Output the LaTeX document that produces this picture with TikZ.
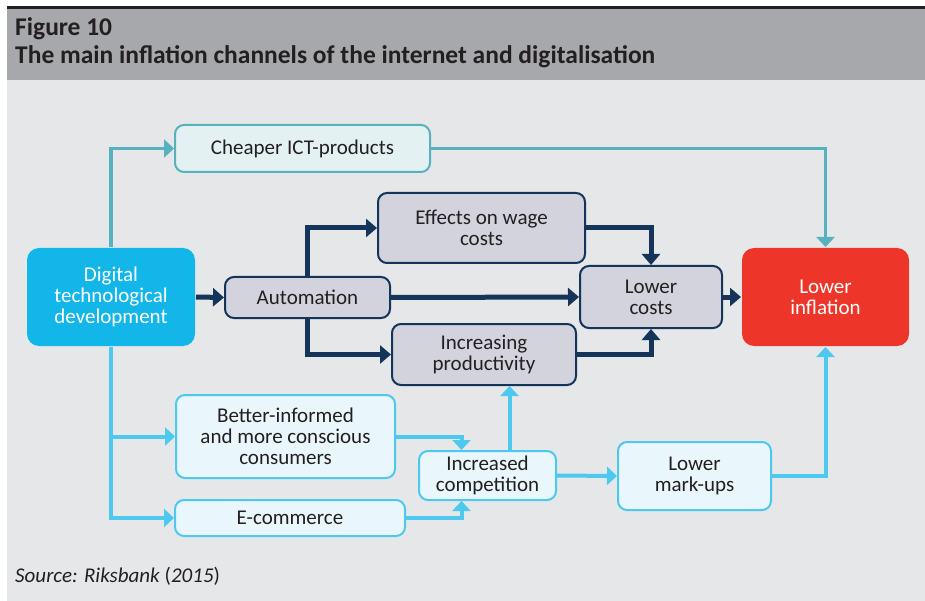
\documentclass[tikz,border=0pt]{standalone}
\usepackage{fontspec}
\setmainfont{Carlito}
\usetikzlibrary{calc,arrows.meta}

\definecolor{headgray}{HTML}{A7A8AB}
\definecolor{panelgray}{HTML}{E6E7E9}
\definecolor{inkdark}{HTML}{231F20}
\definecolor{tealline}{HTML}{57B2BD}
\definecolor{tealfill}{HTML}{E3F1F3}
\definecolor{navyline}{HTML}{14345A}
\definecolor{navyfill}{HTML}{D2D3DD}
\definecolor{cyanfill}{HTML}{13B6E9}
\definecolor{blueline}{HTML}{4DC9F0}
\definecolor{bluefill}{HTML}{E9F6FC}
\definecolor{redfill}{HTML}{EE3529}

\tikzset{
  box/.style={rounded corners=9pt, line width=2pt, align=center, inner sep=0pt,
    font=\fontsize{21}{21}\selectfont, text=inkdark},
  tealbox/.style={box, draw=tealline, fill=tealfill},
  navybox/.style={box, draw=navyline, fill=navyfill},
  bluebox/.style={box, draw=blueline, fill=bluefill},
  bigbox/.style={box, rounded corners=12pt, text=white},
  tealarrow/.style={draw=tealline, line width=3.5pt,
    -{Triangle[width=18pt,length=10pt]}},
  navyarrow/.style={draw=navyline, line width=5pt,
    -{Triangle[width=18pt,length=11pt]}},
  bluearrow/.style={draw=blueline, line width=4pt,
    -{Triangle[width=18pt,length=10pt]}},
}

\begin{document}
\begin{tikzpicture}[x=1pt,y=-1pt]
  \useasboundingbox (0,0) rectangle (925,601);

  %% Header and panel
  \fill[panelgray] (7,80) rectangle (925,601);
  \fill[headgray] (7,9) rectangle (925,80);
  \draw[inkdark, line width=3pt] (7,8) -- (925,8);
  \node[anchor=base west, inner sep=0pt, font=\fontsize{25.5}{28}\selectfont\bfseries, text=inkdark]
    (figno) at (15,36) {Figure 10};
  \node[anchor=base west, inner sep=0pt, font=\fontsize{25.5}{28}\selectfont\bfseries, text=inkdark]
    (title) at (15,64) {The main inflation channels of the internet and digitalisation};

  %% Boxes
  \node[bigbox, fill=cyanfill, minimum width=168pt, minimum height=98pt]
    (dtd) at (111,297) {Digital\\technological\\development};
  \node[bigbox, fill=redfill, minimum width=167pt, minimum height=98pt]
    (infl) at (825.5,297) {Lower\\inflation};
  \node[tealbox, minimum width=255pt, minimum height=47pt]
    (ict) at (302.5,148.5) {Cheaper ICT-products};
  \node[navybox, minimum width=207pt, minimum height=70pt]
    (wage) at (481.5,228) {Effects on wage\\costs};
  \node[navybox, minimum width=165pt, minimum height=41pt]
    (auto) at (307.5,297.5) {Automation};
  \node[navybox, minimum width=142pt, minimum height=62pt]
    (costs) at (651,297) {Lower\\costs};
  \node[navybox, minimum width=184pt, minimum height=61pt]
    (prod) at (484,354.5) {Increasing\\productivity};
  \node[bluebox, minimum width=219pt, minimum height=83pt]
    (inform) at (285.5,436.5) {Better-informed\\and more conscious\\consumers};
  \node[bluebox, minimum width=137pt, minimum height=49pt]
    (comp) at (487.5,475.5) {Increased\\competition};
  \node[bluebox, minimum width=230pt, minimum height=36pt]
    (ecom) at (290,518) {E-commerce};
  \node[bluebox, minimum width=153pt, minimum height=68pt]
    (markup) at (694.5,476) {Lower\\mark-ups};

  %% Teal channel
  \draw[tealarrow] (dtd.north) |- (ict.west);
  \draw[tealarrow] (ict.east) -| (infl.north);

  %% Cost channel
  \draw[navyarrow] (dtd.east) -- (auto.west);
  \draw[navyarrow] (auto.north) |- (wage.west);
  \draw[navyarrow] (auto.south) |- (prod.west);
  \draw[navyarrow] (auto.east) -- (costs.west);
  \draw[navyarrow] (wage.east) -| (costs.north);
  \draw[navyarrow] (prod.east) -| (costs.south);
  \draw[navyarrow] (costs.east) -- (infl.west);

  %% Competition channel
  \draw[bluearrow] (dtd.south) |- (inform.west);
  \draw[bluearrow] (dtd.south) |- (ecom.west);
  \draw[bluearrow] (inform.east) -| ([xshift=-26pt]comp.north);
  \draw[bluearrow] (ecom.east) -| ([xshift=-26pt]comp.south);
  \draw[bluearrow] ([xshift=22pt]comp.north) -- ([xshift=22pt]comp.north |- prod.south);
  \draw[bluearrow] (comp.east) -- (markup.west);
  \draw[bluearrow] (markup.east) -| (infl.south);

  %% Source
  \node[anchor=base west, inner sep=0pt, font=\fontsize{21}{24}\selectfont, text=inkdark]
    (source) at (15,582) {\textit{Source: Riksbank} (\textit{2015})};
\end{tikzpicture}
\end{document}
